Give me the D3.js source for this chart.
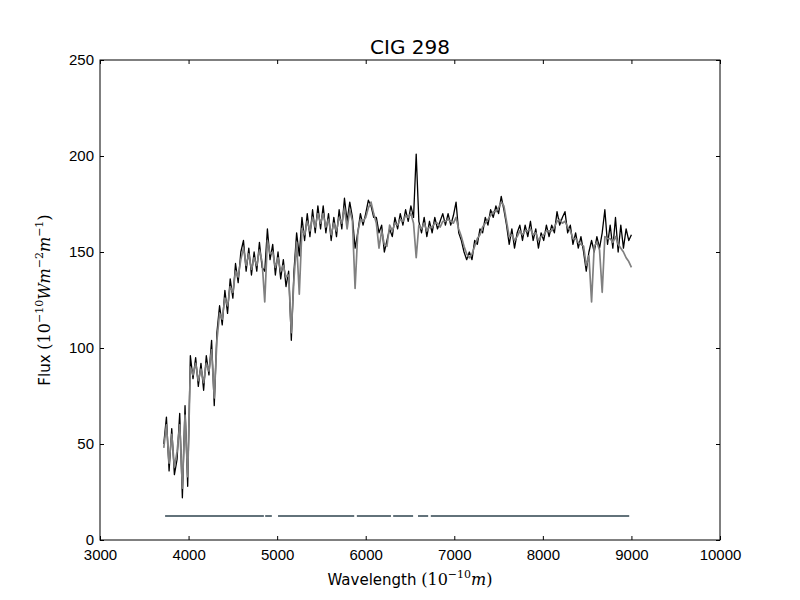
<!DOCTYPE html>
<html>
<head>
<meta charset="utf-8">
<title>CIG 298</title>
<script src="https://d3js.org/d3.v7.min.js"></script>
<style>
  body { margin: 0; background: #ffffff; }
  svg { display: block; font-family: 'DejaVu Sans', sans-serif; }
  .axis text { font-size: 15px; fill: #000; }
  .axis line { stroke: #000; }
  .axis path { display: none; }
</style>
</head>
<body>
<svg id="chart"></svg>
<script>
// spectrum sampled every 30 A starting at 3720 A
const waveStart = 3720;
const waveStep = 30;

// observed flux (black)
const obsFlux = [
  50, 64, 36, 58, 34, 42, 66, 22, 70, 28,
  96, 84, 95, 80, 92, 78, 96, 86, 104, 70,
  108, 122, 112, 130, 118, 136, 126, 144, 134, 150,
  156, 140, 152, 138, 150, 140, 155, 142, 140, 162,
  146, 154, 138, 150, 136, 146, 132, 140, 104, 140,
  160, 148, 168, 156, 170, 158, 172, 160, 174, 162,
  174, 160, 170, 156, 168, 158, 172, 162, 178, 166,
  176, 168, 152, 160, 170, 164, 170, 177, 174, 168,
  168, 160, 164, 150, 156, 162, 158, 168, 162, 170,
  164, 172, 166, 174, 168, 201, 166, 160, 168, 158,
  166, 160, 168, 162, 166, 170, 164, 170, 164, 169,
  176, 160, 156, 150, 146, 150, 146, 156, 154, 162,
  160, 168, 164, 172, 168, 174, 170, 179, 172, 164,
  154, 162, 152, 160, 164, 156, 164, 158, 166, 156,
  162, 152, 160, 156, 164, 158, 164, 160, 171, 164,
  168, 171, 160, 164, 154, 160, 152, 158, 150, 140,
  150, 156, 150, 158, 152, 160, 172, 154, 164, 152,
  168, 150, 164, 152, 162, 156, 159
];

// synthetic (model) flux (grey)
const modelFlux = [
  48, 60, 40, 55, 38, 46, 60, 27, 65, 33,
  90, 86, 92, 83, 89, 82, 92, 88, 99, 74,
  104, 118, 115, 126, 122, 132, 129, 140, 137, 146,
  152, 143, 149, 141, 147, 143, 151, 145, 124, 156,
  149, 150, 142, 147, 140, 143, 137, 138, 108, 136,
  155, 128, 162, 159, 166, 161, 168, 163, 170, 165,
  170, 163, 167, 159, 165, 161, 168, 165, 173, 162,
  172, 166, 131, 160, 167, 166, 168, 173, 176, 170,
  165, 152, 161, 154, 153, 164, 161, 165, 164, 167,
  166, 169, 168, 170, 165, 147, 164, 162, 165, 161,
  163, 163, 165, 165, 163, 166, 166, 167, 166, 165,
  168, 162, 158, 153, 149, 147, 149, 153, 157, 159,
  163, 165, 167, 169, 171, 171, 173, 176, 174, 166,
  158, 159, 156, 158, 161, 159, 161, 161, 162, 159,
  160, 156, 158, 159, 161, 161, 161, 163, 166, 167,
  165, 166, 163, 161, 157, 157, 155, 154, 153, 143,
  148, 124, 153, 155, 151, 129, 158, 157, 157, 155,
  158, 154, 152, 150, 147, 145, 142
];

// fitted wavelength windows, drawn as flags near the bottom
const maskRanges = [
  [3735, 4850], [4865, 4940], [5010, 5870], [5900, 6285],
  [6310, 6535], [6590, 6705], [6735, 8975]
];
const maskLevel = 12.5;

const xTicks = [3000, 4000, 5000, 6000, 7000, 8000, 9000, 10000];
const yTicks = [0, 50, 100, 150, 200, 250];

const width = 800, height = 600;
const margin = { top: 60, right: 80, bottom: 60, left: 100 };

const svg = d3.select("#chart").attr("width", width).attr("height", height);

const x = d3.scaleLinear().domain([3000, 10000]).range([margin.left, width - margin.right]);
const y = d3.scaleLinear().domain([0, 250]).range([height - margin.bottom, margin.top]);

const spectrum = obsFlux.map((f, i) => ({ w: waveStart + i * waveStep, obs: f, model: modelFlux[i] }));

svg.append("clipPath").attr("id", "plotArea")
  .append("rect")
  .attr("x", margin.left).attr("y", margin.top)
  .attr("width", width - margin.left - margin.right)
  .attr("height", height - margin.top - margin.bottom);

const plot = svg.append("g").attr("clip-path", "url(#plotArea)");

plot.append("path")
  .datum(spectrum)
  .attr("fill", "none")
  .attr("stroke", "#000000")
  .attr("stroke-width", 1.3)
  .attr("stroke-linejoin", "round")
  .attr("d", d3.line().x(d => x(d.w)).y(d => y(d.obs)));

plot.append("path")
  .datum(spectrum)
  .attr("fill", "none")
  .attr("stroke", "#808080")
  .attr("stroke-width", 1.7)
  .attr("stroke-linejoin", "round")
  .attr("d", d3.line().x(d => x(d.w)).y(d => y(d.model)));

plot.selectAll(".mask")
  .data(maskRanges)
  .enter()
  .append("line")
  .attr("class", "mask")
  .attr("x1", d => x(d[0]))
  .attr("x2", d => x(d[1]))
  .attr("y1", y(maskLevel))
  .attr("y2", y(maskLevel))
  .attr("stroke", "#62727a")
  .attr("stroke-width", 2);

// axes with inward ticks on all four sides
svg.append("g").attr("class", "axis")
  .attr("transform", `translate(0,${height - margin.bottom})`)
  .call(d3.axisBottom(x).tickValues(xTicks).tickSizeInner(-4).tickSizeOuter(0).tickPadding(9).tickFormat(d3.format("d")));

svg.append("g").attr("class", "axis")
  .attr("transform", `translate(0,${margin.top})`)
  .call(d3.axisTop(x).tickValues(xTicks).tickSizeInner(-4).tickSizeOuter(0).tickFormat(""));

svg.append("g").attr("class", "axis")
  .attr("transform", `translate(${margin.left},0)`)
  .call(d3.axisLeft(y).tickValues(yTicks).tickSizeInner(-4).tickSizeOuter(0).tickPadding(6).tickFormat(d3.format("d")));

svg.append("g").attr("class", "axis")
  .attr("transform", `translate(${width - margin.right},0)`)
  .call(d3.axisRight(y).tickValues(yTicks).tickSizeInner(-4).tickSizeOuter(0).tickFormat(""));

svg.append("rect")
  .attr("x", margin.left).attr("y", margin.top)
  .attr("width", width - margin.left - margin.right)
  .attr("height", height - margin.top - margin.bottom)
  .attr("fill", "none")
  .attr("stroke", "#000")
  .attr("stroke-width", 1);

// title
svg.append("text")
  .attr("x", (margin.left + width - margin.right) / 2)
  .attr("y", 54)
  .attr("text-anchor", "middle")
  .style("font-size", "20px")
  .text("CIG 298");

// labels with mathtext-like pieces
function richLabel(g, parts) {
  const t = g.append("text").attr("text-anchor", "middle").style("font-size", "15px");
  parts.forEach(p => {
    const s = t.append("tspan").text(p.t);
    if (p.math) s.style("font-family", "'DejaVu Serif', serif").style("font-size", "16px");
    if (p.it) s.style("font-style", "italic");
    if (p.sup) s.attr("dy", -7).style("font-size", "11px");
    if (p.down) s.attr("dy", 7);
  });
  return t;
}

const xLab = svg.append("g")
  .attr("transform", `translate(${(margin.left + width - margin.right) / 2},585)`);
richLabel(xLab, [
  { t: "Wavelength " },
  { t: "(10", math: true },
  { t: "\u221210", math: true, sup: true },
  { t: "m", math: true, it: true, down: true },
  { t: ")", math: true }
]);

const yLab = svg.append("g")
  .attr("transform", `translate(50,${(margin.top + height - margin.bottom) / 2}) rotate(-90)`);
richLabel(yLab, [
  { t: "Flux " },
  { t: "(10", math: true },
  { t: "\u221210", math: true, sup: true },
  { t: "Wm", math: true, it: true, down: true },
  { t: "\u22122", math: true, sup: true },
  { t: "m", math: true, it: true, down: true },
  { t: "\u22121", math: true, sup: true },
  { t: ")", math: true, down: true }
]);
</script>
</body>
</html>
